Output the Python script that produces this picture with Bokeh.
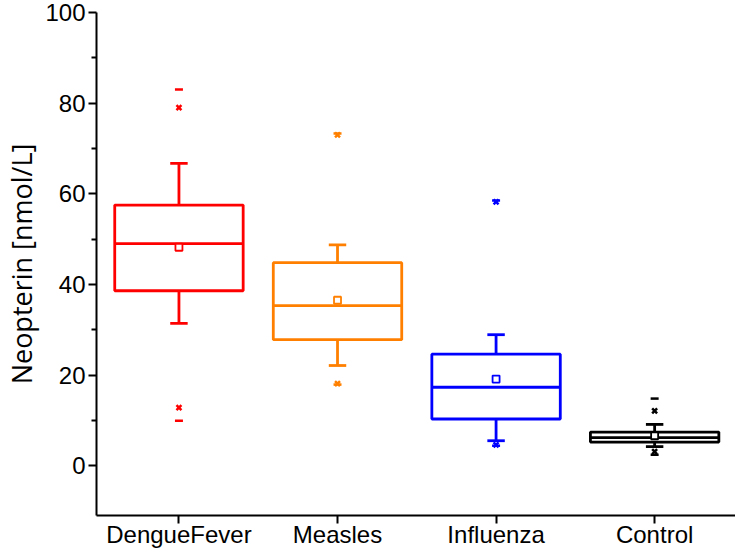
from bokeh.plotting import figure
from bokeh.models import ColumnDataSource, FixedTicker, Range1d
from bokeh.embed import file_html
from bokeh.resources import INLINE

# ---- data ----
categories = ["DengueFever", "Measles", "Influenza", "Control"]
colors = ["#FF0000", "#FF8000", "#0000FF", "#000000"]
q1 = [38.6, 27.8, 10.3, 5.2]
median = [49.0, 35.3, 17.3, 6.2]
q3 = [57.5, 44.8, 24.6, 7.4]
whisker_low = [31.4, 22.1, 5.5, 4.2]
whisker_high = [66.7, 48.7, 28.9, 9.1]
mean = [48.2, 36.5, 19.1, 6.6]
p1 = [12.8, 18.1, 4.6, 3.1]
p99 = [79.0, 73.0, 58.2, 12.1]
vmin = [9.9, 17.9, 4.4, 2.4]
vmax = [83.0, 73.3, 58.5, 14.8]
y_ticks = [0, 20, 40, 60, 80, 100]
y_minor = [10, 30, 50, 70, 90]

xs = list(range(1, len(categories) + 1))
box_w = 0.81
cap_w = 0.11

src = ColumnDataSource(dict(
    x=xs,
    left=[x - box_w / 2 for x in xs],
    right=[x + box_w / 2 for x in xs],
    cl=[x - cap_w / 2 for x in xs],
    cr=[x + cap_w / 2 for x in xs],
    q1=q1, median=median, q3=q3, lo=whisker_low, hi=whisker_high,
    mean=mean, p1=p1, p99=p99, vmin=vmin, vmax=vmax, color=colors,
))

p = figure(width=735, height=550, output_backend="svg", toolbar_location=None,
           x_range=Range1d(0.48, 4.51), y_range=Range1d(-11, 100),
           min_border_left=89, min_border_right=0, min_border_top=12,
           min_border_bottom=30)
p.outline_line_color = None
p.xgrid.visible = False
p.ygrid.visible = False
p.background_fill_color = "white"
p.border_fill_color = "white"

lw = 2.8
# whiskers
p.segment(x0="x", x1="x", y0="q3", y1="hi", source=src, line_color="color", line_width=lw)
p.segment(x0="x", x1="x", y0="q1", y1="lo", source=src, line_color="color", line_width=lw)
p.segment(x0="cl", x1="cr", y0="hi", y1="hi", source=src, line_color="color", line_width=lw)
p.segment(x0="cl", x1="cr", y0="lo", y1="lo", source=src, line_color="color", line_width=lw)
# boxes
p.quad(left="left", right="right", bottom="q1", top="q3", source=src,
       fill_color="white", fill_alpha=0, line_color="color", line_width=lw)
p.segment(x0="left", x1="right", y0="median", y1="median", source=src,
          line_color="color", line_width=lw)
# mean
p.scatter(x="x", y="mean", source=src, marker="square", size=7,
          fill_color="white", line_color="color", line_width=1.8)
# 1% / 99%
p.scatter(x="x", y="p1", source=src, marker="x", size=7, line_color="color", line_width=2.5)
p.scatter(x="x", y="p99", source=src, marker="x", size=7, line_color="color", line_width=2.5)
# min / max
p.scatter(x="x", y="vmin", source=src, marker="dash", size=8, line_color="color", line_width=2.5)
p.scatter(x="x", y="vmax", source=src, marker="dash", size=8, line_color="color", line_width=2.5)

font = "Liberation Sans"
# x axis
xa = p.xaxis[0]
xa.ticker = FixedTicker(ticks=xs)
xa.major_label_overrides = {x: c for x, c in zip(xs, categories)}
xa.axis_line_width = 2
xa.major_tick_line_width = 2
xa.major_tick_out = 8
xa.major_tick_in = 0
xa.minor_tick_line_color = None
xa.major_label_text_font = font
xa.major_label_text_font_size = "24px"
xa.major_label_text_color = "black"
xa.major_label_standoff = -3
xa.axis_label_standoff = 0
xa.axis_line_color = "black"

# y axis
ya = p.yaxis[0]
ya.ticker = FixedTicker(ticks=y_ticks, minor_ticks=y_minor)
ya.axis_line_width = 2
ya.major_tick_line_width = 2
ya.minor_tick_line_width = 2
ya.major_tick_out = 8
ya.major_tick_in = 0
ya.minor_tick_out = 5
ya.minor_tick_in = 0
ya.major_label_text_font = font
ya.major_label_text_font_size = "24px"
ya.major_label_text_color = "black"
ya.major_label_standoff = 3
ya.axis_label = "Neopterin [nmol/L]"
ya.axis_label_text_font = "Open Sans"
ya.axis_label_text_font_size = "27px"
ya.axis_label_text_font_style = "normal"
ya.axis_label_text_color = "black"
ya.axis_label_standoff = 2
ya.axis_line_color = "black"

open("out.html", "w").write(file_html(p, INLINE))
